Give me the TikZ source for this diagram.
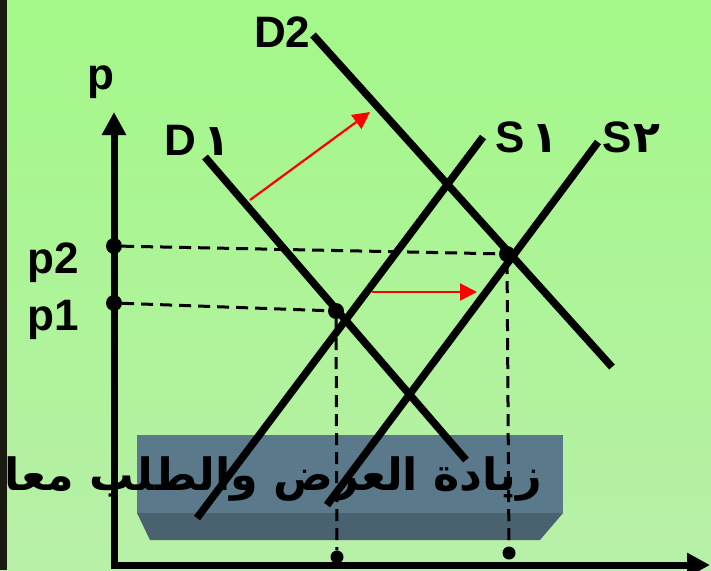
\documentclass[tikz,border=0pt]{standalone}
\usepackage{fontspec}
\setmainfont{Liberation Sans}
\newfontfamily\arabicfont[Script=Arabic]{DejaVu Sans}
\TeXXeTstate=1
\usetikzlibrary{arrows.meta}
\definecolor{bgtop}{RGB}{163,248,136}
\definecolor{bgbot}{RGB}{184,240,168}
\definecolor{strip}{RGB}{27,26,16}
\definecolor{boxface}{RGB}{90,122,140}
\definecolor{boxside}{RGB}{74,97,112}

\begin{document}
\begin{tikzpicture}[x=1pt,y=-1pt,>=Latex,
    curve/.style={line width=7.5pt},
    axis/.style={line width=7pt,-{Triangle[length=23pt,width=23pt]}},
    guide/.style={line width=3pt,dash pattern=on 12pt off 7pt},
    dot/.style={circle,fill,inner sep=0pt,minimum size=16pt},
    tick/.style={dot,minimum size=13pt},
    moveto/.style={red,line width=2.2pt,-{Triangle[length=17pt,width=17pt]}},
    lbl/.style={inner sep=0pt,anchor=base west,font=\fontsize{44}{48}\selectfont\bfseries},
    title/.style={inner sep=0pt,anchor=base east,font=\fontsize{44.5}{50}\selectfont\bfseries}]
    \useasboundingbox (0,0) rectangle (711,570);
    \fill[top color=bgtop,bottom color=bgbot] (0,0) rectangle (711,570);
    \fill[strip] (0,0) rectangle (7,570);
    \fill[boxface] (137,435) rectangle (563,513);
    \fill[boxside] (137,513) -- (563,513) -- (540,540) -- (150,540) -- cycle;
    \node[title] (title) at (542,490) {\arabicfont\beginR زيادة العرض والطلب معا\endR};
    \coordinate (o) at (114,565);
    \coordinate (ytop) at (114,112);
    \coordinate (xend) at (710,565);
    \coordinate (d1a) at (205,157);
    \coordinate (d1b) at (466,460);
    \coordinate (d2a) at (313,35);
    \coordinate (d2b) at (612,367);
    \coordinate (s1a) at (483,137);
    \coordinate (s1b) at (197,518);
    \coordinate (s2a) at (598,142);
    \coordinate (s2b) at (327,505);
    \node[dot] (p2dot) at (114,246) {};
    \node[dot] (p1dot) at (114,303) {};
    \node[dot] (e1) at (336,311) {};
    \node[dot] (e2) at (507,254) {};
    \node[tick] (q1dot) at (337,557) {};
    \node[tick] (q2dot) at (509,553) {};
    \draw[guide] (p2dot) -- (e2);
    \draw[guide] (p1dot) -- (e1);
    \draw[guide] (e1) -- (q1dot);
    \draw[guide] (e2) -- (q2dot);
    \draw[curve] (d1a) -- (d1b);
    \draw[curve] (d2a) -- (d2b);
    \draw[curve] (s1a) -- (s1b);
    \draw[curve] (s2a) -- (s2b);
    \draw[axis] (o) -- (ytop);
    \draw[axis] ([xshift=-3.5pt]o) -- (xend);
    \coordinate (r1a) at (250,200);
    \coordinate (r1b) at (370,112);
    \coordinate (r2a) at (372,292);
    \coordinate (r2b) at (477,292);
    \draw[moveto] (r1a) -- (r1b);
    \draw[moveto] (r2a) -- (r2b);
    \node[lbl] (plbl) at (87,89) {p};
    \node[lbl] (d2lbl) at (254,47) {D2};
    \node[lbl] (d1lbl) at (164,155) {D\,{\arabicfont ١}};
    \node[lbl] (s1lbl) at (495,152) {S\,{\arabicfont ١}};
    \node[lbl] (s2lbl) at (602,152) {S\kern2pt{\arabicfont ٢}};
    \node[lbl] (p2lbl) at (27,273) {p2};
    \node[lbl] (p1lbl) at (27,330) {p1};
\end{tikzpicture}
\end{document}
